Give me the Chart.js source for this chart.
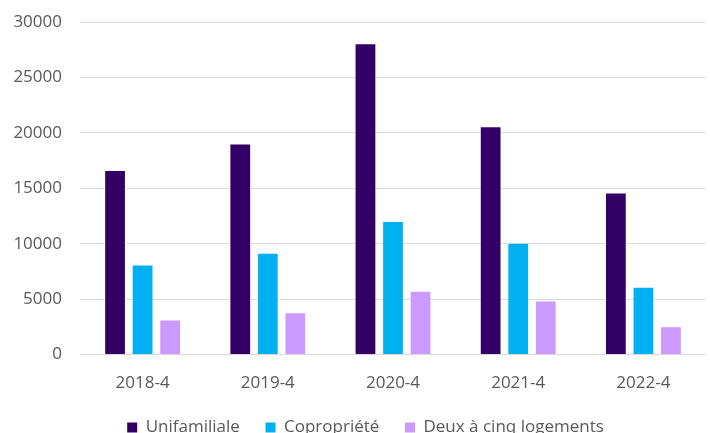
<!DOCTYPE html>
<html>
<head>
<meta charset="utf-8">
<script src="https://cdn.jsdelivr.net/npm/chart.js@4/dist/chart.umd.min.js"></script>
<style>
    html, body { margin: 0; padding: 0; background: #ffffff; }
    #wrap { width: 710px; height: 433px; position: relative; }
</style>
</head>
<body>
<div id="wrap"><canvas id="chart"></canvas></div>
<script>
// Catégories et séries
var periods = ['2018-4', '2019-4', '2020-4', '2021-4', '2022-4'];
var unifamiliale = [16650, 19030, 28090, 20600, 14630];
var copropriete = [8130, 9190, 12040, 10090, 6110];
var deuxACinq = [3160, 3820, 5750, 4880, 2560];
var yTicks = [0, 5000, 10000, 15000, 20000, 25000, 30000];

(function () {
    'use strict';

    var font = { family: '"Open Sans", sans-serif', size: 17 };
    var textColor = '#595959';

    function bars(label, values, color) {
        return {
            label: label,
            data: values,
            backgroundColor: color,
            borderColor: 'rgba(255,255,255,0.6)',
            borderWidth: 1,
            barPercentage: 0.79,
            categoryPercentage: 0.66
        };
    }

    // décale la légende pour la centrer comme dans l'original
    var legendShift = {
        id: 'legendShift',
        afterLayout: function (chart) {
            chart.legend.left += 6;
            chart.legend.right += 6;
        }
    };

    new Chart(document.getElementById('chart'), {
        type: 'bar',
        data: {
            labels: periods,
            datasets: [
                bars('Unifamiliale', unifamiliale, '#330066'),
                bars('Copropriété', copropriete, '#00b0f0'),
                bars('Deux à cinq logements', deuxACinq, '#cc99ff')
            ]
        },
        plugins: [legendShift],
        options: {
            responsive: true,
            maintainAspectRatio: false,
            animation: false,
            layout: { padding: { left: 13, right: 4, top: 22, bottom: -13 } },
            plugins: {
                legend: {
                    position: 'bottom',
                    labels: {
                        boxWidth: 10,
                        boxHeight: 10,
                        padding: 8,
                        color: textColor,
                        font: font,
                        generateLabels: function (chart) {
                            var items = Chart.defaults.plugins.legend.labels.generateLabels(chart);
                            items.forEach(function (it, i) {
                                if (i < items.length - 1) it.text = it.text + '    ';
                                it.strokeStyle = it.fillStyle;
                                it.lineWidth = 0;
                            });
                            return items;
                        }
                    }
                },
                tooltip: { enabled: false }
            },
            scales: {
                x: {
                    grid: { display: false, drawTicks: false },
                    border: { display: false },
                    ticks: { color: textColor, font: font, padding: 18 }
                },
                y: {
                    min: 0,
                    max: 30000,
                    afterFit: function (axis) {
                        axis.width = 67;
                        axis.paddingTop = 0;
                    },
                    afterBuildTicks: function (axis) {
                        axis.ticks = yTicks.map(function (v) { return { value: v }; });
                    },
                    grid: { color: '#d9d9d9', lineWidth: 1, drawTicks: false },
                    border: { display: false },
                    ticks: {
                        color: textColor,
                        font: font,
                        padding: 18,
                        callback: function (value) { return String(value); }
                    }
                }
            }
        }
    });
})();
</script>
</body>
</html>
